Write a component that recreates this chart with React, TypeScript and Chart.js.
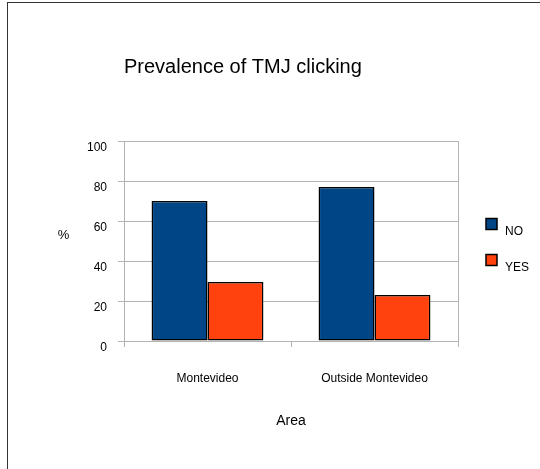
import React, { useEffect, useRef } from "react";
import { Chart, registerables } from "chart.js";

Chart.register(...registerables);

const categories = ["Montevideo", "Outside Montevideo"];
const seriesNames = ["NO", "YES"];
const noValues = [70, 77];
const yesValues = [29.5, 23];
const seriesColors = ["#004586", "#ff420e"];
const yTicks = [0, 20, 40, 60, 80, 100];
const chartTitle = "Prevalence of TMJ clicking";
const xTitle = "Area";
const yTitle = "%";

const FONT = "'Liberation Sans', Arial, sans-serif";
const GRID = "#b3b3b3";

const extrasPlugin = {
  id: "extras",
  afterDraw(chart: any) {
    const { ctx, chartArea } = chart;
    ctx.save();
    ctx.fillStyle = "#000";
    // y axis title, upright
    ctx.font = `13px ${FONT}`;
    ctx.textAlign = "center";
    ctx.textBaseline = "middle";
    ctx.fillText(yTitle, chartArea.left - 60.5, (chartArea.top + chartArea.bottom) / 2 - 6);
    // legend
    chart.data.datasets.forEach((ds: any, i: number) => {
      const bx = chartArea.right + 28;
      const by = chartArea.top + 77.5 + i * 36;
      ctx.fillStyle = ds.backgroundColor;
      ctx.fillRect(bx, by, 11, 11);
      ctx.strokeStyle = "#000";
      ctx.lineWidth = 1.5;
      ctx.strokeRect(bx, by, 11, 11);
      ctx.fillStyle = "#000";
      ctx.font = `12px ${FONT}`;
      ctx.textAlign = "left";
      ctx.textBaseline = "middle";
      ctx.fillText(ds.label, bx + 19, by + 13);
    });
    ctx.restore();
  },
};

export default function App() {
  const ref = useRef<HTMLCanvasElement>(null);
  useEffect(() => {
    if (!ref.current) return;
    const chart = new Chart(ref.current, {
      type: "bar",
      data: {
        labels: categories,
        datasets: [
          {
            label: seriesNames[0],
            data: noValues,
            backgroundColor: seriesColors[0],
            borderColor: "#000",
            borderWidth: 1.5,
            borderSkipped: false,
          },
          {
            label: seriesNames[1],
            data: yesValues,
            backgroundColor: seriesColors[1],
            borderColor: "#000",
            borderWidth: 1.5,
            borderSkipped: false,
          },
        ],
      },
      options: {
        responsive: false,
        animation: false,
        devicePixelRatio: 1,
        layout: { padding: { left: 0, top: 0, right: 82, bottom: 0 } },
        datasets: { bar: { categoryPercentage: 0.67, barPercentage: 1 } },
        plugins: {
          legend: { display: false },
          tooltip: { enabled: false },
          title: {
            display: true,
            text: chartTitle,
            align: "start",
            fullSize: false,
            color: "#000",
            font: { family: FONT, size: 20, weight: "normal" },
            padding: { top: 55, bottom: 62 },
          },
        },
        scales: {
          x: {
            grid: {
              offset: true,
              drawOnChartArea: false,
              color: GRID,
              tickLength: 6,
              lineWidth: 1,
            },
            border: { display: true, color: GRID },
            ticks: {
              color: "#000",
              font: { family: FONT, size: 12 },
              padding: 24,
              maxRotation: 0,
            },
            title: {
              display: true,
              text: xTitle,
              color: "#000",
              font: { family: FONT, size: 14 },
              padding: { top: 0, bottom: 39 },
            },
            afterFit(scale: any) {
              scale.height = 128;
            },
          },
          y: {
            min: 0,
            max: 100,
            afterBuildTicks(scale: any) {
              scale.ticks = yTicks.map((v) => ({ value: v }));
            },
            grid: { color: GRID, tickLength: 6, lineWidth: 1 },
            border: { display: true, color: GRID },
            ticks: {
              color: "#000",
              font: { family: FONT, size: 12 },
              padding: 11,
              labelOffset: 7,
            },
            afterFit(scale: any) {
              scale.width = 124;
            },
          },
          y2: {
            position: "right",
            min: 0,
            max: 100,
            grid: { drawOnChartArea: false, drawTicks: false },
            border: { display: true, color: GRID },
            ticks: { display: false },
            afterFit(scale: any) {
              scale.width = 0;
            },
          },
        },
      },
      plugins: [extrasPlugin],
    } as any);
    return () => chart.destroy();
  }, []);

  return (
    <div style={{ position: "absolute", left: 0, top: 0, width: 540, height: 469, background: "#fff" }}>
      <div
        style={{
          position: "absolute",
          left: 7,
          top: 2,
          right: 0,
          bottom: 0,
          borderLeft: "1px solid #333",
          borderTop: "1px solid #333",
        }}
      />
      <canvas ref={ref} width={540} height={469} style={{ position: "absolute", left: 0, top: 0 }} />
    </div>
  );
}
